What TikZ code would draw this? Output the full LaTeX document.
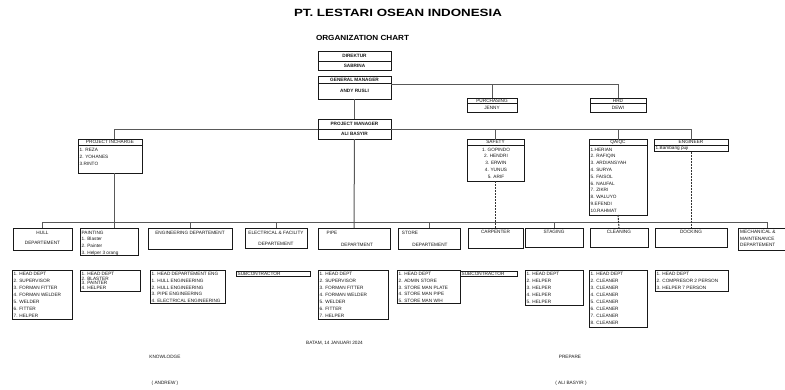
\documentclass[tikz,border=0pt]{standalone}
\usepackage{fontspec}
\setmainfont{Liberation Sans}
\newcommand\obox[5]{\node[bxs,minimum width={(#4-#2)*1pt},minimum height={(#5-#3)*1pt}] (#1) at ({(#2+#4)/2},{(#3+#5)/2}) {};}
\newcommand\odiv[2]{\draw[bxline] (#1.west |- 0,#2) -- (#1.east |- 0,#2);}
\newcommand\lfont[1]{\fontsize{4.7}{#1}\selectfont}
\begin{document}
\begin{tikzpicture}[x=1pt,y=-1pt,
  bxline/.style={draw=black!90,line width=1.0pt},
  bxs/.style={bxline,inner sep=0pt,outer sep=0pt,rectangle},
  conn/.style={draw=black!65,line width=1.0pt},
  dconn/.style={conn,draw=black!80,dash pattern=on 2pt off 1pt},
  tx/.style={font=\lfont{5},inner sep=0pt,text=black!90},
  txb/.style={tx,font=\lfont{5}\bfseries},
  tl/.style={tx,anchor=west},
  lst/.style={tx,anchor=north west,align=left},
]
\fill[white] (0,0) rectangle (785,389);
\useasboundingbox (0,0) rectangle (785,389);
\clip (0,0) rectangle (785,389);

% titles
\node[font=\fontsize{10.5}{12}\selectfont\bfseries,inner sep=0pt] (title) at (398,13) {\scalebox{1.27}[1]{PT. LESTARI OSEAN INDONESIA}};
\node[font=\fontsize{7.4}{9}\selectfont\bfseries,inner sep=0pt] (sub) at (362.5,38) {\scalebox{1.1}[1]{ORGANIZATION CHART}};

% top boxes
\obox{dir}{318}{51}{391}{70}\odiv{dir}{61}
\node[txb] (dirA) at (354.5,56) {DIREKTUR};
\node[txb] (dirB) at (354.5,65.5) {SABRINA};
\obox{gm}{318}{76}{391}{99}\odiv{gm}{83}
\node[txb] (gmA) at (354.5,79.5) {GENERAL MANAGER};
\node[txb] (gmB) at (354.5,91) {ANDY RUSLI};
\obox{pur}{467}{98}{517}{112}\odiv{pur}{103}
\node[tx] (purA) at (492,100.5) {PURCHASING};
\node[tx] (purB) at (492,107.5) {JENNY};
\obox{hrd}{590}{98}{646}{112}\odiv{hrd}{103}
\node[tx] (hrdA) at (618,100.5) {HRD};
\node[tx] (hrdB) at (618,107.5) {DEWI};
\obox{pm}{318}{119}{391}{139}\odiv{pm}{129}
\node[txb] (pmA) at (354.5,124) {PROJECT MANAGER};
\node[txb] (pmB) at (354.5,134) {ALI BASYIR};

% level 2
\obox{pi}{78}{139}{142}{173}\odiv{pi}{145}
\node[tx] (piA) at (110,142) {PROJECT INCHARGE};
\node[lst,font=\lfont{6.7}] (piL) at (79.5,148.4) {1. REZA\\2. YOHANES\\3.RINTO};
\obox{saf}{467}{139.5}{524}{181}\odiv{saf}{145}
\node[tx] (safA) at (495.5,142.3) {SAFETY};
\node[tx,anchor=north,align=center,font=\lfont{6.9}] (safL) at (496,147.6) {1. GOPINDO\\2. HENDRI\\3. ERWIN\\4. YUNUS\\5. ARIF};
\obox{qa}{589}{139.5}{647}{215}\odiv{qa}{145}
\node[tx] (qaA) at (618,142.3) {QA/QC};
\node[lst,font=\lfont{6.8}] (qaL) at (590.5,147.6) {1.HERIAN\\2. RAFIQIN\\3. ARDIANSYAH\\4. SURYA\\5. FAISOL\\6. NAUFAL\\7. ZIKRI\\8. WALUYO\\9.EFENDI\\10.RAHMAT};
\obox{eng}{654}{139.5}{728}{151.5}\odiv{eng}{145}
\node[tx] (engA) at (691,142.3) {ENGINEER};
\node[tl] (engB) at (655.5,148.3) {1.Bambang puji};

% level 3
\obox{hull}{13}{228}{72}{250}
\node[tx] (hullA) at (42.5,232.5) {HULL};
\node[tx] (hullB) at (42.5,243) {DEPARTEMENT};
\obox{pnt}{80}{228}{138}{255}
\node[lst,font=\lfont{6.8}] (pntL) at (81.5,230.7) {PAINTING\\1. Blaster\\2. Painter\\3. Helper 3 orang};
\obox{engd}{148}{228}{232}{249}
\node[tx] (engdA) at (190,232.5) {ENGINEERING DEPARTEMENT};
\obox{elec}{245}{228}{307}{248}
\node[tx] (elecA) at (276,232.5) {ELECTRICAL \& FACILITY};
\node[tx] (elecB) at (276,243.5) {DEPARTEMENT};
\obox{pipe}{318}{228}{390}{249}
\node[tx] (pipeA) at (332,232.5) {PIPE};
\node[tx] (pipeB) at (357,245) {DEPARTMENT};
\obox{store}{398}{228}{460}{249}
\node[tx] (storeA) at (410,232.5) {STORE};
\node[tx] (storeB) at (430,245) {DEPARTEMENT};
\obox{carp}{468}{228}{523}{248}
\node[tx] (carpA) at (495.5,232.3) {CARPENTER};
\obox{stag}{525}{228}{583}{247}
\node[tx] (stagA) at (554,232.3) {STAGING};
\obox{cln}{590}{228}{648}{247}
\node[tx] (clnA) at (619,232.3) {CLEANING};
\obox{dock}{655}{228}{727}{247}
\node[tx] (dockA) at (691,232.3) {DOCKING};
\obox{mech}{738}{228}{796}{250}
\node[lst,font=\lfont{6.5}] (mechL) at (740,230.5) {MECHANICAL \&\\MAINTENANCE\\DEPARTEMENT};

% level 4
\obox{hullL}{12}{270}{72}{319}
\node[lst,font=\lfont{7}] (hullT) at (13.5,272.4) {1. HEAD DEPT\\2. SUPERVISOR\\3. FORMAN FITTER\\4. FORMAN WELDER\\5. WELDER\\6. FITTER\\7. HELPER};
\obox{pntLb}{80}{270}{140}{291.5}
\node[lst,font=\lfont{4.6}] (pntT) at (81.5,272.2) {1. HEAD DEPT\\2. BLASTER\\3. PAINTER\\4. HELPER};
\obox{engL}{150}{270}{225}{303}
\node[lst,font=\lfont{6.7}] (engT) at (151.5,272.4) {1. HEAD DEPARTEMENT ENG\\1. HULL ENGINEERING\\2. HULL ENGINEERING\\3. PIPE ENGINEERING\\4. ELECTRICAL ENGINEERING};
\obox{subA}{236}{271.5}{310}{276.5}
\node[tl] (subAT) at (237.5,274) {SUBCONTRACTOR};
\obox{pipeL}{318}{270}{388}{319}
\node[lst,font=\lfont{7}] (pipeT) at (319.5,272.4) {1. HEAD DEPT\\2. SUPERVISOR\\3. FORMAN FITTER\\4. FORMAN WELDER\\5. WELDER\\6. FITTER\\7. HELPER};
\obox{storeL}{397}{270}{460}{303.5}
\node[lst,font=\lfont{6.7}] (storeT) at (398.5,272.4) {1. HEAD DEPT\\2. ADMIN STORE\\3. STORE MAN PLATE\\4. STORE MAN PIPE\\5. STORE MAN W/H};
\obox{subB}{460}{271.5}{517}{276.5}
\node[tl] (subBT) at (461.5,274) {SUBCONTRACTOR};
\obox{stagL}{525}{270}{583}{305}
\node[lst,font=\lfont{6.9}] (stagT) at (526.5,272.4) {1. HEAD DEPT\\2. HELPER\\3. HELPER\\4. HELPER\\5. HELPER};
\obox{clnL}{589}{270}{647}{327}
\node[lst,font=\lfont{6.9}] (clnT) at (590.5,272.4) {1. HEAD DEPT\\2. CLEANER\\3. CLEANER\\4. CLEANER\\5. CLEANER\\6. CLEANER\\7. CLEANER\\8. CLEANER};
\obox{dockL}{655}{270}{728}{291}
\node[lst,font=\lfont{6.7}] (dockT) at (656.5,272.4) {1. HEAD DEPT\\2. COMPRESOR 2 PERSON\\3. HELPER 7 PERSON};

% connectors
\coordinate (j1) at (hrd.north |- 0,84);
\draw[conn] (gm.east |- j1) -- (j1) -- (hrd.north);
\draw[conn] (pur.north |- j1) -- (pur.north);
\draw[conn] (gm.south) -- (pm.north);
\coordinate (l2L) at (114,129);
\coordinate (l2R) at (eng.north |- 0,129);
\draw[conn] (l2L) -- (pm.west |- l2L);
\draw[conn] (pm.east |- l2L) -- (l2R) -- (eng.north);
\draw[conn] (l2L) -- (l2L |- pi.north);
\draw[conn] (saf.north |- l2L) -- (saf.north);
\draw[conn] (qa.north |- l2L) -- (qa.north);
\coordinate (l3L) at (hull.north |- 0,222);
\coordinate (l3R) at (mech.north |- 0,222);
\draw[conn] (l3L) -- (l3R);
\foreach \b in {hull,engd,elec,store,stag,mech}{\draw[conn] (\b.north |- l3L) -- (\b.north);}
\draw[conn] (l2L |- pi.south) -- (l2L |- pnt.north);
\draw[conn] (pm.south) -- (pipe.north);
\draw[dconn] (saf.south) -- (carp.north);
\draw[dconn] (qa.south) -- (cln.north);
\draw[dconn] (eng.south) -- (dock.north);

% footer
\node[tx] (date) at (334.5,343) {BATAM, 14 JANUARI 2024};
\node[tx] (know) at (165,357) {KNOWLODGE};
\node[tx] (prep) at (570,357) {PREPARE};
\node[tx] (andrew) at (165,383) {( ANDREW )};
\node[tx] (ali) at (571,383) {( ALI BASYIR )};
\end{tikzpicture}
\end{document}
